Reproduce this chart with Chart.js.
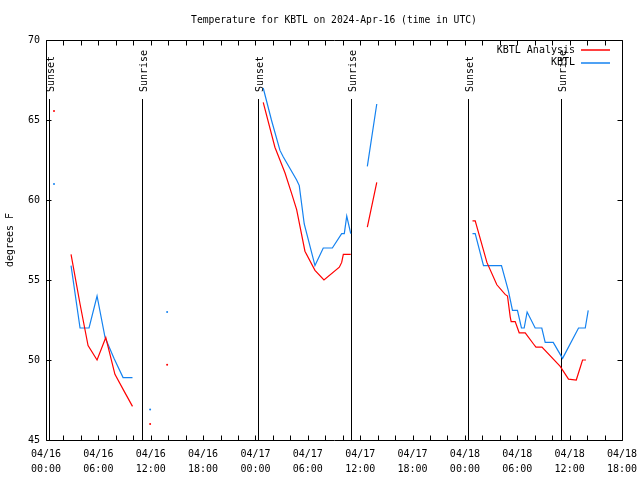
<!DOCTYPE html>
<html><head><meta charset="utf-8">
<script src="https://cdn.jsdelivr.net/npm/chart.js@4.4.1/dist/chart.umd.min.js"></script>
<style>html,body{margin:0;padding:0;background:#fff;}canvas{display:block;}</style>
</head><body>
<canvas id="c" width="640" height="480" style="width:640px;height:480px"></canvas>
<script>
const titleText = 'Temperature for KBTL on 2024-Apr-16 (time in UTC)';
const yAxisTitle = 'degrees F';
const seriesNames = ['KBTL Analysis', 'KBTL'];
const seriesColors = ['#ff0000', '#1482f0'];

// x ticks every 6 hours from 2024-04-16 00:00 UTC
const xTickDates = ['04/16','04/16','04/16','04/16','04/17','04/17','04/17','04/17','04/18','04/18','04/18','04/18'];
const xTickTimes = ['00:00','06:00','12:00','18:00','00:00','06:00','12:00','18:00','00:00','06:00','12:00','18:00'];
const yTicks = [45, 50, 55, 60, 65, 70];

// hours since 04/16 00:00 UTC; null = gap
const analysisHours = [0.92, 1.5,
  2.87, 3.9, 4.82, 5.85, 6.85, 7.9, 8.9, 9.91, 10.5,
  11.93, 12.5,
  13.88, 14.5,
  24.89, 26.23, 27.38, 28.15, 28.72, 29.67, 30.82, 31.85, 33.61, 33.88, 34.07, 34.92, 35.5,
  36.82, 37.9, 38.5,
  48.87, 49.18, 50.52, 51.66, 52.61, 52.88, 53.19, 53.3, 53.76, 54.22, 54.91, 55.86, 56.14, 56.83, 58.92, 59.87, 60.76, 61.48, 61.87];
const analysisTemps = [65.56, null,
  56.6, 53.5, 50.9, 50.0, 51.4, 49.1, 48.1, 47.1, null,
  46.0, null,
  49.7, null,
  66.1, 63.3, 61.7, 60.4, 59.4, 56.8, 55.6, 55.0, 55.8, 56.1, 56.6, 56.6, null,
  58.3, 61.1, null,
  58.7, 58.7, 56.1, 54.7, 54.1, 54.0, 52.7, 52.4, 52.4, 51.7, 51.7, 51.0, 50.8, 50.8, 49.6, 48.8, 48.75, 50.0, 50.0];

const obsHours = [0.92, 1.5,
  2.87, 3.9, 4.93, 5.85, 6.77, 7.8, 8.83, 9.91, 10.5,
  11.93, 12.5,
  13.88, 14.5,
  24.89, 25.83, 26.81, 27.18, 28.72, 29.02, 29.59, 30.82, 31.77, 32.81, 33.88, 34.18, 34.46, 34.92, 35.5,
  36.82, 37.9, 38.5,
  48.87, 49.18, 50.13, 52.19, 52.99, 53.45, 54.02, 54.48, 54.79, 55.13, 56.05, 56.81, 57.2, 58.12, 59.19, 61.02, 61.79, 62.13];
const obsTemps = [61.0, null,
  55.9, 52.0, 52.0, 54.0, 51.4, 50.1, 48.9, 48.9, null,
  46.9, null,
  53.0, null,
  67.0, 65.0, 63.1, 62.7, 61.25, 60.9, 58.5, 55.9, 57.0, 57.0, 57.9, 57.9, 59.0, 57.9, null,
  62.1, 66.0, null,
  57.9, 57.9, 55.9, 55.9, 54.3, 53.1, 53.1, 52.0, 52.0, 53.0, 52.0, 52.0, 51.1, 51.1, 50.1, 52.0, 52.0, 53.1];

const sunHours = [0.34, 10.98, 24.3, 35.0, 48.3, 58.96];
const sunLabels = ['Sunset', 'Sunrise', 'Sunset', 'Sunrise', 'Sunset', 'Sunrise'];

const FONT = 'DejaVu Sans Mono';

function toPoints(h, t) { return h.map((x, i) => ({ x: x, y: t[i] })); }
function loneRadius(ctx) {
  const d = ctx.dataset.data, i = ctx.dataIndex;
  if (!d[i] || d[i].y === null) return 0;
  const p = d[i - 1], n = d[i + 1];
  const lone = (!p || p.y === null) && (!n || n.y === null);
  return lone ? 1 : 0;
}

const gnuplotFrame = {
  id: 'gnuplotFrame',
  beforeDatasetsDraw(chart) {
    const c = chart.ctx, a = chart.chartArea, xs = chart.scales.x;
    c.save();
    c.strokeStyle = '#000'; c.lineWidth = 1;
    c.fillStyle = '#000';
    c.font = '10px "' + FONT + '"';
    sunHours.forEach((h, i) => {
      const px = Math.round(xs.getPixelForValue(h)) + 0.5;
      c.beginPath(); c.moveTo(px, 99); c.lineTo(px, a.bottom); c.stroke();
      c.save();
      c.translate(px + 1.5, 92);
      c.rotate(-Math.PI / 2);
      c.textAlign = 'left'; c.textBaseline = 'middle';
      c.fillText(sunLabels[i], 0, 0);
      c.restore();
    });
    c.restore();
  },
  afterDatasetsDraw(chart) {
    const c = chart.ctx, a = chart.chartArea, xs = chart.scales.x, ys = chart.scales.y;
    c.save();
    c.strokeStyle = '#000'; c.lineWidth = 1;
    const L = Math.round(a.left) + 0.5, R = Math.round(a.right) + 0.5;
    const T = Math.round(a.top) + 0.5, B = Math.round(a.bottom) + 0.5;
    c.beginPath(); c.rect(L, T, R - L, B - T); c.stroke();
    c.beginPath();
    for (let h = xs.min; h <= xs.max; h += 2) {
      const px = Math.round(xs.getPixelForValue(h)) + 0.5;
      c.moveTo(px, B); c.lineTo(px, B - 5);
      c.moveTo(px, T); c.lineTo(px, T + 5);
    }
    yTicks.forEach(v => {
      const py = Math.round(ys.getPixelForValue(v)) + 0.5;
      c.moveTo(L, py); c.lineTo(L + 5, py);
      c.moveTo(R, py); c.lineTo(R - 5, py);
    });
    c.stroke();
    c.restore();
  },
  afterDraw(chart) {
    const c = chart.ctx, a = chart.chartArea;
    c.save();
    c.fillStyle = '#000';
    c.font = '9.7px "' + FONT + '"';
    c.textAlign = 'center'; c.textBaseline = 'middle';
    c.fillText(titleText, (a.left + a.right) / 2, 20);
    c.font = '10px "' + FONT + '"';
    c.save();
    c.translate(10, (a.top + a.bottom) / 2);
    c.rotate(-Math.PI / 2);
    c.fillText(yAxisTitle, 0, 0);
    c.restore();
    // key
    chart.data.datasets.forEach((ds, i) => {
      const y = 50 + i * 12.5;
      c.textAlign = 'right'; c.textBaseline = 'middle';
      c.fillStyle = '#000';
      c.fillText(ds.label, 575, y);
      c.strokeStyle = seriesColors[i]; c.lineWidth = 1.5;
      c.beginPath(); c.moveTo(581, Math.round(y)); c.lineTo(610, Math.round(y)); c.stroke();
    });
    c.restore();
  }
};

new Chart(document.getElementById('c'), {
  type: 'line',
  data: {
    datasets: [
      { label: seriesNames[0], data: toPoints(analysisHours, analysisTemps), borderColor: seriesColors[0], backgroundColor: seriesColors[0],
        borderWidth: 1.2, pointRadius: loneRadius, pointBorderWidth: 0, pointHoverRadius: 0, spanGaps: false, tension: 0, fill: false },
      { label: seriesNames[1], data: toPoints(obsHours, obsTemps), borderColor: seriesColors[1], backgroundColor: seriesColors[1],
        borderWidth: 1.2, pointRadius: loneRadius, pointBorderWidth: 0, pointHoverRadius: 0, spanGaps: false, tension: 0, fill: false }
    ]
  },
  options: {
    responsive: false, animation: false, devicePixelRatio: 1,
    layout: { padding: { left: 0, right: 18, top: 40, bottom: 0 } },
    plugins: { legend: { display: false }, tooltip: { enabled: false }, title: { display: false } },
    events: [],
    scales: {
      x: {
        type: 'linear', min: 0, max: 66,
        grid: { display: false, drawTicks: false }, border: { display: false },
        ticks: {
          stepSize: 6, autoSkip: false, maxRotation: 0, minRotation: 0, padding: 7, color: '#000',
          font: { family: FONT, size: 10, lineHeight: 1.5 },
          callback: (v) => { const i = Math.round(v / 6); return [xTickDates[i], xTickTimes[i]]; }
        },
        afterFit: (s) => { s.height = 40; s.paddingLeft = 0; s.paddingRight = 0; }
      },
      y: {
        min: 45, max: 70,
        grid: { display: false, drawTicks: false }, border: { display: false },
        ticks: { stepSize: 5, padding: 6, color: '#000', font: { family: FONT, size: 10 } },
        afterFit: (s) => { s.width = 46; }
      }
    }
  },
  plugins: [gnuplotFrame]
});
</script>
</body></html>
